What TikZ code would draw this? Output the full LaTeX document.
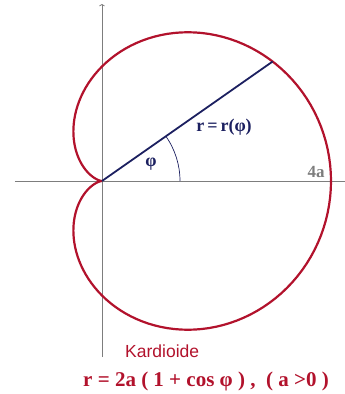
\documentclass[tikz,border=0pt]{standalone}
\usepackage{fontspec}
\setmainfont{Liberation Serif}[BoldFont={Liberation Serif Bold}]
\setsansfont{Liberation Sans}
\usetikzlibrary{arrows.meta, positioning}
\usepackage{xcolor}
\definecolor{kardrot}{RGB}{178,18,44}
\definecolor{radblau}{RGB}{28,32,96}
\definecolor{achsgrau}{RGB}{125,125,125}

\begin{document}
\begin{tikzpicture}[
  x=1pt, y=1pt,
  >=Latex,
  achse/.style={draw=achsgrau, line width=0.8pt},
  kurve/.style={draw=kardrot, line width=2.2pt},
  fahrstrahl/.style={draw=radblau, line width=1.8pt},
  winkel/.style={draw=radblau, line width=0.7pt},
  marke/.style={inner sep=1pt, font=\fontsize{18}{20}\selectfont\bfseries, text=radblau},
  titel/.style={inner sep=1pt, font=\sffamily\fontsize{17.5}{19}\selectfont, text=kardrot},
  formel/.style={inner sep=1pt, font=\fontsize{21}{23}\selectfont\bfseries, text=kardrot}
]
  \def\a{57.25}
  \useasboundingbox (-102,-213) rectangle (243,181);

  % Koordinatenachsen ==========================
  \coordinate (O) at (0,0);
  \coordinate (xl) at (-87,0);
  \coordinate (xr) at (243,0);
  \coordinate (yu) at (0,-176);
  \coordinate (yo) at (0,177);
  \draw[achse] (xl) -- (xr);
  \draw[achse, -{Straight Barb[length=1.5pt, width=5pt]}] (yu) -- (yo);

  % Kardioide r = 2a(1+cos phi)
  \draw[kurve] plot[domain=0:360, samples=181] (\x:{2*\a*(1+cos(\x))});

  % Fahrstrahl und Winkel
  \coordinate (P) at (35:{2*\a*(1+cos(35))});
  \draw[fahrstrahl] (O) -- (P);
  \draw[winkel] (78,0) arc[start angle=0, end angle=35, radius=78];

  % Beschriftungen
  \node[marke] (phi) at (49,17) {φ};
  \node[marke] (rphi) at (122,54) {r\,=\,r(φ)};
  \node[marke, text=achsgrau, font=\fontsize{17}{19}\selectfont\bfseries] (vier) at (214,9) {4a};
  \node[titel, anchor=west] (name) at (22,-170) {Kardioide};
  \node[formel] (gl) at (104,-200) {r = 2a ( 1 + cos φ ) ,~ ( a >0 )};

\end{tikzpicture}
\end{document}
